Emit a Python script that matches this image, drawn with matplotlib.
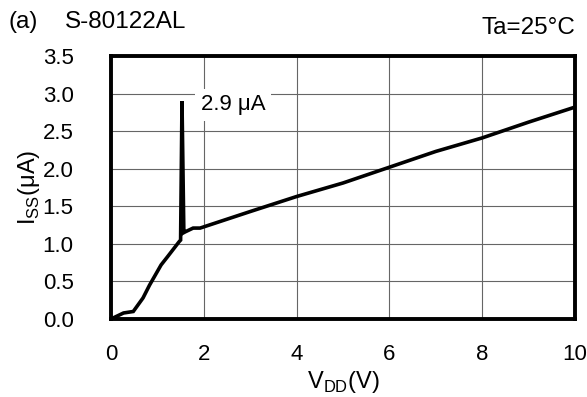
import matplotlib
matplotlib.use("Agg")
import matplotlib.pyplot as plt

plt.rcParams['font.family'] = ['Liberation Sans', 'DejaVu Sans']
plt.rcParams['mathtext.fontset'] = 'custom'
plt.rcParams['mathtext.rm'] = 'Liberation Sans'

# supply current vs supply voltage
vdd = [0.0, 0.27, 0.48, 0.69, 0.83, 1.08, 1.22, 1.47, 1.50, 1.53, 1.57, 1.60,
       1.77, 1.92, 3.0, 4.0, 5.0, 6.0, 7.0, 8.0, 9.0, 10.0]
iss = [0.0, 0.08, 0.10, 0.28, 0.45, 0.72, 0.83, 1.03, 1.05, 2.90, 1.15, 1.16,
       1.21, 1.21, 1.43, 1.63, 1.81, 2.02, 2.23, 2.41, 2.62, 2.82]

peak_label = "2.9 μA"

fig = plt.figure(figsize=(5.87, 3.97), dpi=100)
ax = fig.add_axes([111/587, 1 - 319/397, 464/587, 263/397])

ax.plot(vdd, iss, color='black', lw=2.6, solid_joinstyle='miter', zorder=3)

ax.set_xlim(0, 10)
ax.set_ylim(0, 3.5)
ax.set_xticks(range(0, 11, 2))
ax.set_yticks([i * 0.5 for i in range(8)])
ax.set_yticklabels([f"{i * 0.5:.1f}" for i in range(8)])
ax.grid(True, color='#666666', lw=0.8)
ax.tick_params(length=0, labelsize=16, pad=18)
ax.tick_params(axis='y', pad=27)
for s in ax.spines.values():
    s.set_linewidth(2.8)

ax.text(1.93, 2.85, peak_label, fontsize=16, va='center', ha='left',
        bbox=dict(facecolor='white', edgecolor='none', pad=4), zorder=4)

ax.set_xlabel(r"V$_{\mathregular{DD}}$(V)", fontsize=17, labelpad=3)
ax.set_ylabel(r"I$_{\mathregular{SS}}$(μA)", fontsize=17, labelpad=0)

fig.text(8/587, 1 - 22/397, "(a)", fontsize=17.5, va='center')
fig.text(65/587, 1 - 22/397, "S-80122AL", fontsize=17.5, va='center')
fig.text(575/587, 1 - 28/397, "Ta=25°C", fontsize=17.5, va='center', ha='right')

fig.savefig("out.png", dpi=100)
